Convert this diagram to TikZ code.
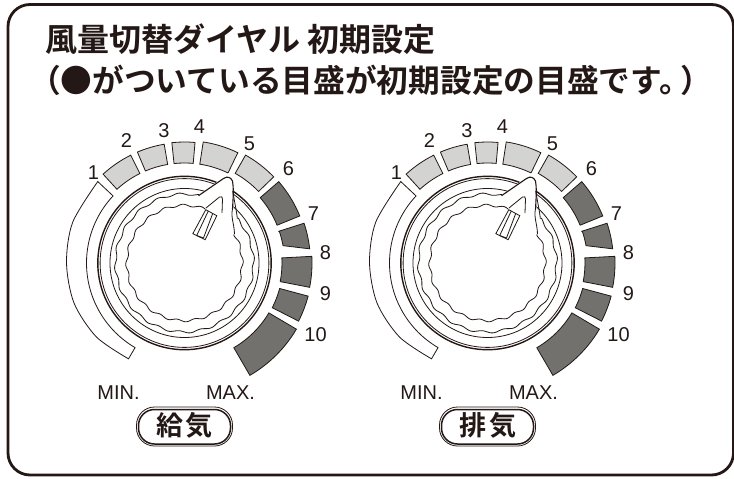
\documentclass[tikz,border=0pt]{standalone}
\usepackage{graphicx}
\usepackage{fontspec}
\setsansfont{Liberation Sans}
\newfontfamily\cjkb{Noto Sans CJK JP Bold}
\definecolor{light}{HTML}{D3D3D1}
\definecolor{dark}{HTML}{72716D}
\definecolor{ink}{HTML}{231815}
\tikzset{
  seg/.style={draw=ink,line width=.8pt,line join=miter},
  thin ring/.style={draw=ink,line width=.8pt},
  num/.style={font=\sffamily\fontsize{20}{20}\selectfont,text=ink,inner sep=0pt},
  minmax/.style={font=\sffamily\fontsize{20}{20}\selectfont,text=ink,inner sep=0pt},
  title/.style={font=\cjkb\fontsize{31.7}{32}\selectfont,text=ink,inner sep=0pt,anchor=west},
}
\newcommand{\wedgeseg}[5]{\filldraw[seg,fill=#1] (#2:#4) -- (#2:#5) arc[start angle=#2,end angle=#3,radius=#5] -- (#3:#4) arc[start angle=#3,end angle=#2,radius=#4] -- cycle;}
\newcommand{\dialunit}[4]{%
\begin{scope}[shift={(#1,#2)},x=1pt,y=1pt]
  \filldraw[seg,fill=white] plot[smooth] coordinates {(136.8:119) (160:119) (180:118) (200:117.5) (220:115) (239.7:111)} -- (239.7:98) arc[start angle=239.7,end angle=136.8,radius=98] -- cycle;
  \wedgeseg{light}{116.5}{132.5}{100}{120.5}
  \wedgeseg{light}{99.7}{113}{100}{120.5}
  \wedgeseg{light}{85}{96}{100}{121}
  \wedgeseg{light}{64.2}{81.2}{100}{122.5}
  \wedgeseg{light}{44}{60.5}{103}{124}
  \wedgeseg{dark}{22.2}{40.8}{100}{124.5}
  \filldraw[seg,fill=dark] (18.6:99) -- (18.4:126) arc[start angle=18.4,end angle=6.5,radius=126.5] -- (10:100) arc[start angle=10,end angle=18.6,radius=99.5] -- cycle;
  \wedgeseg{dark}{-11}{3}{97.5}{127.5}
  \wedgeseg{dark}{-27}{-15}{98.5}{128}
  \wedgeseg{dark}{-59.8}{-30.6}{98}{130}
  \draw[draw=ink,line width=1.4pt] (0,0) circle[radius=86.7];
  \draw[thin ring] (0,0) circle[radius=84.4];
  \draw[thin ring] (0,0) circle[radius=74.5];
  % pointer mask
  \fill[white] (14,67.3) -- (38,85) -- (44,90) -- (48,84) -- (49,52) -- (45,35) -- (20,50) -- cycle;
  % outer wavy, running up to the pointer's right edge
  \draw[thin ring] (48.2,72) -- (50,62) .. controls (51,56) and (52,52) .. (\fpeval{69*cosd(40)},\fpeval{69*sind(40)}) plot[domain=40:-282,samples=260] (\x:{69+1.1*sin(20*\x)});
  % inner wavy, joined to the same edge
  \draw[thin ring] (48,54) .. controls (46,46) and (50,38) .. (\fpeval{57.7*cosd(30)},\fpeval{57.7*sind(30)}) plot[domain=30:-291,samples=260] (\x:{57.7+1.1*sin(20*\x+60)});
  % pointer outline
  \draw[draw=ink,line width=1.1pt,line join=round] (14,67.3) -- (39,84.5) .. controls (43,87) and (46,86) .. (48,82) .. controls (49,76) and (49,70) .. (48,54);
  \draw[thin ring] (21.5,55) -- (35,66) .. controls (37,67) and (38,66) .. (38,64) -- (37.5,50);
  % stem
  \filldraw[thin ring,fill=white] (21.3,53.3) -- (32.3,47.3) -- (20.7,23.3) -- (8.3,29.3) -- cycle;
  \draw[thin ring] (23.8,52) -- (12.2,27.5) -- (19,25) -- (28.2,49.5);
  % labels
  \node[num] (#3n1) at (-91,90) {1};
  \node[num] (#3n2) at (-58,122) {2};
  \node[num] (#3n3) at (-20.5,132) {3};
  \node[num] (#3n4) at (15,136) {4};
  \node[num] (#3n5) at (65,119) {5};
  \node[num] (#3n6) at (104,94) {6};
  \node[num] (#3n7) at (129,49) {7};
  \node[num] (#3n8) at (141,10) {8};
  \node[num] (#3n9) at (141,-31) {9};
  \node[num] (#3n10) at (131,-72) {10};
  \node[minmax] (#3min) at (-66,-130) {MIN.};
  \node[minmax] (#3max) at (46,-130) {MAX.};
  \draw[draw=ink,line width=.8pt,rounded corners=18pt] (-48,-144) rectangle (48,-183);
  \draw[draw=ink,line width=1.5pt,rounded corners=16pt] (-46,-146.5) rectangle (46,-181);
  \node[font=\cjkb\fontsize{27}{27}\selectfont,text=ink,inner sep=0pt] (#3lab) at (0,-162) {#4};
\end{scope}}
\begin{document}
\begin{tikzpicture}[x=1pt,y=-1pt]
\useasboundingbox (0,0) rectangle (734,479);
\fill[white] (0,0) rectangle (734,479);
\draw[draw=ink,line width=2.8pt,rounded corners=22pt] (8,4.5) rectangle (733.5,475);
\node[title,font=\cjkb\fontsize{32}{32}\selectfont] (t1) at (45,39) {風量切替ダイヤル 初期設定};
\node[title] (t2) at (29,80) {（●がついている目盛が初期設定の目盛です。\hspace{-10pt}）};
\dialunit{184.5}{263}{a}{給\hspace{3pt}気}
\dialunit{487.5}{263}{b}{排\hspace{3pt}気}
\end{tikzpicture}
\end{document}
